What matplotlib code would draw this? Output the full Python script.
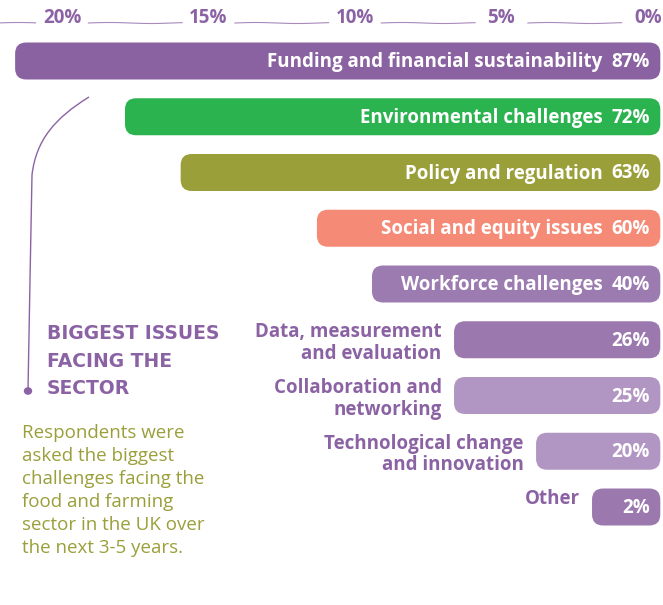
import matplotlib
matplotlib.use("Agg")
import matplotlib.pyplot as plt
from matplotlib.patches import FancyBboxPatch, Circle
from matplotlib.path import Path
from matplotlib.patches import PathPatch
import numpy as np

# ---------------- data ----------------
categories = [
    "Funding and financial sustainability",
    "Environmental challenges",
    "Policy and regulation",
    "Social and equity issues",
    "Workforce challenges",
    "Data, measurement\nand evaluation",
    "Collaboration and\nnetworking",
    "Technological change\nand innovation",
    "Other",
]
pct_labels = ["87%", "72%", "63%", "60%", "40%", "26%", "25%", "20%", "2%"]
bar_lengths = [21.6, 17.85, 15.95, 11.3, 9.42, 6.62, 6.62, 3.82, 1.91]
label_inside = [True, True, True, True, True, False, False, False, False]
bar_colors = ["#8A62A2", "#2BB34F", "#9A9F3A", "#F58A76", "#9C7BB0",
              "#9B79AE", "#B196C3", "#B196C3", "#9B79AE"]
scale_ticks = [20, 15, 10, 5, 0]
scale_labels = ["20%", "15%", "10%", "5%", "0%"]

title_text = "BIGGEST ISSUES\nFACING THE\nSECTOR"
desc_text = ("Respondents were\nasked the biggest\nchallenges facing the\n"
             "food and farming\nsector in the UK over\nthe next 3-5 years.")

PURPLE = "#8B63A4"
OLIVE = "#9A9F3A"
FONT = ["Open Sans", "DejaVu Sans"]
TFONT = ["DejaVu Sans"]

W, H = 663, 605
fig = plt.figure(figsize=(W / 100, H / 100), dpi=100)
fig.patch.set_facecolor("white")

top_px = 32
ax = fig.add_axes([0, 0, 1, (H - top_px) / H])
px_per_unit = 29.3
zero_px = 648
ax.set_xlim(zero_px / px_per_unit, (zero_px - W) / px_per_unit)
ax.set_ylim(H, top_px)
for s in ax.spines.values():
    s.set_visible(False)
ax.set_yticks([])
ax.xaxis.tick_top()
ax.set_xticks(scale_ticks)
ax.set_xticklabels(scale_labels, fontfamily=FONT, fontweight="bold",
                   fontsize=13.5, color=PURPLE)
ax.tick_params(axis="x", length=0, pad=3)

# thin wavy rules between the scale labels
gap = 0.9
line_y = 23
segs = [(22.2, scale_ticks[0] + gap)]
for a, b in zip(scale_ticks[:-1], scale_ticks[1:]):
    segs.append((a - gap, b + gap))
for x0, x1 in segs:
    xs = np.linspace(x0, x1, 60)
    ys = line_y + 0.5 * np.sin((xs - x0) * 2.2)
    ax.plot(xs, ys, color=PURPLE, lw=0.8, alpha=0.75, clip_on=False)

# bars
y0 = 61
dy = 55.75
bar_h = 37
right_end = -0.42
r_units = 11 / px_per_unit
for i, (L, col) in enumerate(zip(bar_lengths, bar_colors)):
    yc = y0 + i * dy
    left = right_end
    width = L - right_end
    patch = FancyBboxPatch((left, yc - bar_h / 2), width, bar_h,
                           boxstyle=f"round,pad=0,rounding_size={r_units}",
                           mutation_aspect=px_per_unit,
                           facecolor=col, edgecolor="none")
    ax.add_patch(patch)
    ax.text(-0.06, yc + 1, pct_labels[i], ha="right", va="center",
            fontfamily=FONT, fontweight="bold", fontsize=13.5, color="white")
    if label_inside[i]:
        ax.text(1.55, yc + 1, categories[i], ha="right", va="center",
                fontfamily=FONT, fontweight="bold", fontsize=13.5, color="white")
    else:
        ax.text(L + 0.42, yc - bar_h / 2 + 1, categories[i], ha="right", va="top",
                fontfamily=FONT, fontweight="bold", fontsize=13.5, color=PURPLE,
                linespacing=1.1, multialignment="right")

# connector line (figure pixel coords)
def fp(x, y):
    return (x / W, 1 - y / H)

verts = [fp(89, 97), fp(55, 118), fp(36, 140), fp(32, 175),
         fp(30, 280), fp(28, 390)]
codes = [Path.MOVETO, Path.CURVE4, Path.CURVE4, Path.CURVE4,
         Path.LINETO, Path.LINETO]
fig.patches.append(PathPatch(Path(verts, codes), transform=fig.transFigure,
                             facecolor="none", edgecolor=PURPLE, lw=1.0))
fig.patches.append(Circle(fp(28, 391), 4.2 / W, transform=fig.transFigure,
                          facecolor=PURPLE, edgecolor="none"))

fig.text(47 / W, 1 - 324 / H, title_text, ha="left", va="top",
         fontfamily=TFONT, fontweight="bold", fontsize=13.5, color=PURPLE,
         linespacing=1.58)
fig.text(22 / W, 1 - 424 / H, desc_text, ha="left", va="top",
         fontfamily=FONT, fontsize=13.5, color=OLIVE, linespacing=1.36)

fig.savefig("out.png", dpi=100, facecolor="white")
